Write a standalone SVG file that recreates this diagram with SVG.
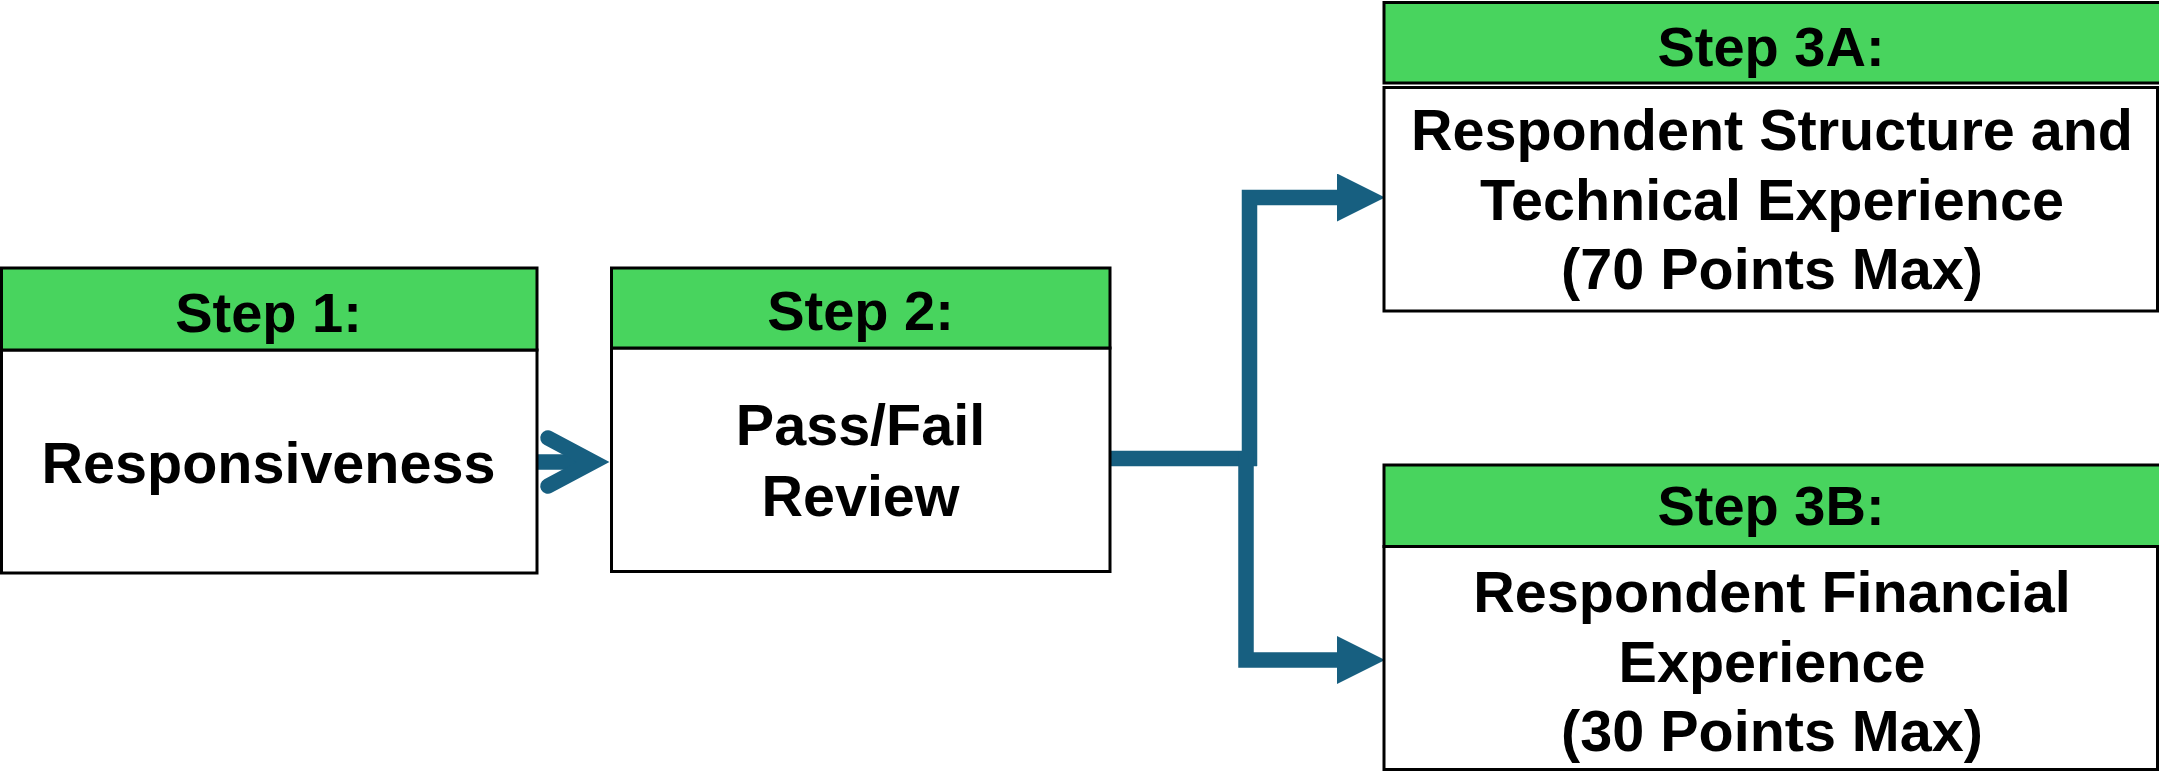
<svg xmlns="http://www.w3.org/2000/svg" width="2159" height="772" viewBox="0 0 2159 772">
  <style>
    .hdr { fill: #48D45E; stroke: #000; stroke-width: 3; }
    .body { fill: #fff; stroke: #000; stroke-width: 3; }
    .t { font-family: "Liberation Sans", Arial, sans-serif; font-weight: bold; fill: #000; text-anchor: middle; }
    .h { font-size: 56px; }
    .b { font-size: 57.5px; }
    .conn { fill: none; stroke: #175F80; stroke-width: 15.5; }
  </style>
  <defs>
    <marker id="head" markerUnits="userSpaceOnUse" markerWidth="48" markerHeight="48" viewBox="0 0 47 47" refX="1" refY="23.5" orient="auto">
      <path d="M0,0 L47,23.5 L0,47 Z" fill="#175F80"/>
    </marker>
  </defs>
  <rect width="2159" height="772" fill="#fff"/>

  <g id="connectors">
    <path class="conn" d="M537,462 H592" stroke-linecap="butt"/>
    <path class="conn" d="M548,438 L593,462 L548,486" stroke-linecap="round" stroke-linejoin="miter" stroke-width="15"/>
    <path class="conn" d="M1108,458.5 H1257"/>
    <path class="conn" d="M1249.5,466 V197.5 H1338" marker-end="url(#head)"/>
    <path class="conn" d="M1246,451 V660 H1338" marker-end="url(#head)"/>
  </g>

  <g id="step1">
    <rect class="body" x="1.5" y="350" width="535.5" height="223"/>
    <rect class="hdr" x="1.5" y="268" width="535.5" height="82"/>
    <text class="t h" x="268.5" y="332">Step 1:</text>
    <text class="t b" x="268.5" y="483">Responsiveness</text>
  </g>

  <g id="step2">
    <rect class="body" x="611.5" y="348" width="498.5" height="223.5"/>
    <rect class="hdr" x="611.5" y="268" width="498.5" height="80"/>
    <text class="t h" x="860.5" y="330">Step 2:</text>
    <text class="t b" x="860.5" y="445">Pass/Fail</text>
    <text class="t b" x="860.5" y="516">Review</text>
  </g>

  <g id="step3a">
    <rect class="hdr" x="1384" y="2.5" width="780" height="80.5"/>
    <rect class="body" x="1384" y="87.5" width="773.5" height="223.5"/>
    <text class="t h" x="1771" y="66">Step 3A:</text>
    <text class="t b" x="1772" y="149.5">Respondent Structure and</text>
    <text class="t b" x="1772" y="220">Technical Experience</text>
    <text class="t b" x="1772" y="289">(70 Points Max)</text>
  </g>

  <g id="step3b">
    <rect class="body" x="1384" y="546.5" width="773.5" height="223"/>
    <rect class="hdr" x="1384" y="465" width="780" height="81.5"/>
    <text class="t h" x="1771" y="525">Step 3B:</text>
    <text class="t b" x="1772" y="611.5">Respondent Financial</text>
    <text class="t b" x="1772" y="681.5">Experience</text>
    <text class="t b" x="1772" y="751">(30 Points Max)</text>
  </g>
</svg>
